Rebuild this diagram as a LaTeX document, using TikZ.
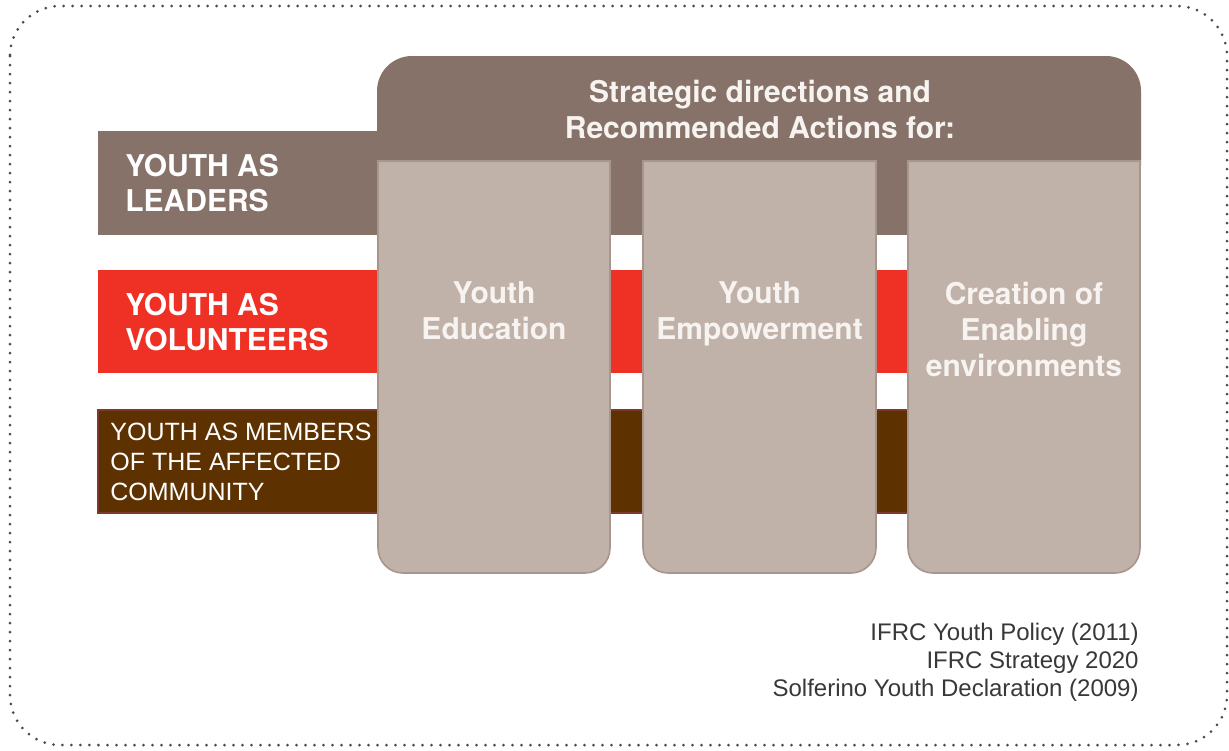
\documentclass[tikz,border=0pt]{standalone}
\usepackage{fontspec}
\setmainfont{TeX Gyre Heros}
\newfontfamily\arialfont{Liberation Sans}
\definecolor{hdrbrown}{HTML}{867268}
\definecolor{colfill}{HTML}{C0B1A9}
\definecolor{colline}{HTML}{A8968D}
\definecolor{volred}{HTML}{EE3124}
\definecolor{darkbrown}{HTML}{5E3100}
\definecolor{memline}{HTML}{7B3A2A}
\definecolor{foottext}{HTML}{383838}
\definecolor{coltext}{HTML}{F7F3F0}
\definecolor{dotgray}{HTML}{4A4A4A}
\tikzset{
  bandlabel/.style={inner sep=0pt, anchor=west, align=left, text=white,
    font=\fontsize{15}{17.5}\selectfont\bfseries},
  memberlabel/.style={inner sep=0pt, anchor=west, align=left, text=white,
    font=\arialfont\fontsize{12.5}{15}\selectfont},
  collabel/.style={inner sep=0pt, align=center, text=coltext,
    font=\fontsize{15}{18}\selectfont\bfseries},
  headlabel/.style={inner sep=0pt, align=center, text=coltext,
    font=\fontsize{15}{18}\selectfont\bfseries},
  footlabel/.style={inner sep=0pt, anchor=east, align=right, text=foottext,
    font=\arialfont\fontsize{12}{14}\selectfont},
  colbox/.style={fill=colfill, draw=colline, line width=0.8pt},
  dotborder/.style={draw=dotgray, line width=1.5pt, line cap=round,
    dash pattern=on 0pt off 4.5pt, rounded corners=25pt}
}
\begin{document}
\begin{tikzpicture}[x=0.5pt,y=0.5pt]
\useasboundingbox (0,0) rectangle (1229,-750);
% dotted outer border
\draw[dotborder] (10,-6) rectangle (1227,-745);
% bands
\fill[hdrbrown] (98,-131) rectangle (1141,-235);
\fill[volred] (98,-270) rectangle (1000,-373);
\filldraw[fill=darkbrown, draw=memline, line width=0.8pt] (98,-410) rectangle (1000,-513);
% header
\fill[hdrbrown] (377,-165) -- (377,-91) arc[start angle=180,end angle=90,radius=35]
  -- (1106,-56) arc[start angle=90,end angle=0,radius=35] -- (1141,-165) -- cycle;
% columns
\draw[colbox] (378,-161) -- (378,-548) arc[start angle=180,end angle=270,radius=25]
  -- (585,-573) arc[start angle=270,end angle=360,radius=25] -- (610,-161) -- cycle;
\draw[colbox] (643,-161) -- (643,-548) arc[start angle=180,end angle=270,radius=25]
  -- (851,-573) arc[start angle=270,end angle=360,radius=25] -- (876,-161) -- cycle;
\draw[colbox] (908,-161) -- (908,-548) arc[start angle=180,end angle=270,radius=25]
  -- (1115,-573) arc[start angle=270,end angle=360,radius=25] -- (1140,-161) -- cycle;
% texts
\node[headlabel] (head) at (760,-109) {Strategic directions and\\Recommended Actions for:};
\node[bandlabel] (leaders) at (125,-183) {YOUTH AS\\LEADERS};
\node[bandlabel] (volunteers) at (125,-322.5) {YOUTH AS\\VOLUNTEERS};
\node[memberlabel] (members) at (110,-462) {YOUTH AS MEMBERS\\OF THE AFFECTED\\COMMUNITY};
\node[collabel] (educ) at (494,-311) {Youth\\Education};
\node[collabel] (empow) at (759.5,-314) {Youth\\Empowerment};
\node[collabel] (enab) at (1024,-329) {Creation of\\Enabling\\environments};
\node[footlabel] (refs) at (1139,-662) {IFRC Youth Policy (2011)\\IFRC Strategy 2020\\Solferino Youth Declaration (2009)};
\end{tikzpicture}
\end{document}
